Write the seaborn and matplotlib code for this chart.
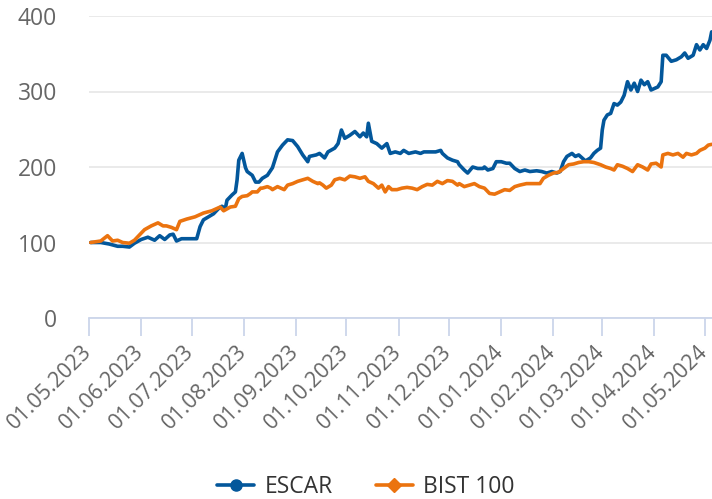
import pandas as pd
import matplotlib.pyplot as plt
import matplotlib.transforms as mtransforms
from matplotlib.lines import Line2D
import seaborn as sns

# ESCAR vs BIST 100, rebased to 100 at 01.05.2023
escar_dates = [
    "02.05.2023", "08.05.2023", "13.05.2023", "18.05.2023", "21.05.2023", "25.05.2023", "28.05.2023",
    "01.06.2023", "05.06.2023", "09.06.2023", "12.06.2023", "15.06.2023", "18.06.2023", "20.06.2023",
    "22.06.2023", "25.06.2023", "30.06.2023", "04.07.2023", "06.07.2023", "08.07.2023", "11.07.2023",
    "14.07.2023", "17.07.2023", "19.07.2023", "21.07.2023", "22.07.2023", "25.07.2023", "27.07.2023",
    "28.07.2023", "29.07.2023", "31.07.2023", "02.08.2023", "03.08.2023", "06.08.2023", "08.08.2023",
    "10.08.2023", "12.08.2023", "15.08.2023", "18.08.2023", "21.08.2023", "24.08.2023", "27.08.2023",
    "30.08.2023", "02.09.2023", "05.09.2023", "08.09.2023", "09.09.2023", "13.09.2023", "15.09.2023",
    "18.09.2023", "20.09.2023", "24.09.2023", "26.09.2023", "28.09.2023", "30.09.2023", "03.10.2023",
    "06.10.2023", "09.10.2023", "11.10.2023", "13.10.2023", "14.10.2023", "16.10.2023", "19.10.2023",
    "22.10.2023", "25.10.2023", "27.10.2023", "30.10.2023", "02.11.2023", "04.11.2023", "07.11.2023",
    "11.11.2023", "14.11.2023", "16.11.2023", "18.11.2023", "23.11.2023", "26.11.2023", "27.11.2023",
    "30.11.2023", "03.12.2023", "06.12.2023", "07.12.2023", "10.12.2023", "12.12.2023", "15.12.2023",
    "18.12.2023", "21.12.2023", "22.12.2023", "24.12.2023", "27.12.2023", "29.12.2023", "01.01.2024",
    "04.01.2024", "06.01.2024", "09.01.2024", "12.01.2024", "15.01.2024", "18.01.2024", "22.01.2024",
    "25.01.2024", "28.01.2024", "31.01.2024", "03.02.2024", "05.02.2024", "07.02.2024", "09.02.2024",
    "12.02.2024", "14.02.2024", "16.02.2024", "18.02.2024", "20.02.2024", "23.02.2024", "25.02.2024",
    "27.02.2024", "29.02.2024", "01.03.2024", "02.03.2024", "04.03.2024", "06.03.2024", "08.03.2024",
    "10.03.2024", "12.03.2024", "14.03.2024", "16.03.2024", "18.03.2024", "20.03.2024", "22.03.2024",
    "24.03.2024", "26.03.2024", "28.03.2024", "30.03.2024", "01.04.2024", "03.04.2024", "05.04.2024",
    "06.04.2024", "08.04.2024", "11.04.2024", "14.04.2024", "17.04.2024", "19.04.2024", "21.04.2024",
    "24.04.2024", "26.04.2024", "28.04.2024", "30.04.2024", "02.05.2024", "04.05.2024", "05.05.2024",
]
escar_values = [
    100, 100, 98, 95, 95, 94, 99,
    104, 107, 103, 109, 104, 110, 111,
    102, 105, 105, 105, 121, 130, 134,
    138, 145, 148, 145, 156, 163, 167,
    183, 209, 218, 199, 194, 189, 180,
    180, 185, 189, 199, 220, 229, 236,
    235, 227, 216, 207, 214, 216, 218,
    212, 220, 225, 231, 249, 238, 242,
    247, 240, 245, 240, 258, 234, 231,
    225, 231, 218, 220, 218, 222, 218,
    220, 218, 220, 220, 220, 222, 218,
    212, 209, 207, 203, 196, 192, 200,
    198, 198, 200, 196, 198, 207, 207,
    205, 205, 198, 194, 196, 194, 195,
    194, 192, 194, 192, 194, 207, 214,
    218, 214, 216, 212, 208, 212, 218,
    222, 225, 249, 262, 269, 271, 284,
    282, 286, 295, 313, 302, 311, 300,
    315, 309, 313, 302, 304, 306, 313,
    348, 348, 340, 342, 346, 351, 344,
    348, 362, 355, 362, 357, 368, 379,
]

bist_dates = [
    "02.05.2023", "08.05.2023", "12.05.2023", "15.05.2023", "18.05.2023", "21.05.2023", "25.05.2023",
    "28.05.2023", "31.05.2023", "03.06.2023", "07.06.2023", "11.06.2023", "14.06.2023", "16.06.2023",
    "19.06.2023", "22.06.2023", "24.06.2023", "28.06.2023", "03.07.2023", "08.07.2023", "13.07.2023",
    "18.07.2023", "20.07.2023", "24.07.2023", "27.07.2023", "29.07.2023", "31.07.2023", "03.08.2023",
    "05.08.2023", "06.08.2023", "09.08.2023", "11.08.2023", "12.08.2023", "15.08.2023", "17.08.2023",
    "18.08.2023", "21.08.2023", "24.08.2023", "25.08.2023", "27.08.2023", "30.08.2023", "02.09.2023",
    "05.09.2023", "08.09.2023", "11.09.2023", "14.09.2023", "15.09.2023", "17.09.2023", "19.09.2023",
    "22.09.2023", "24.09.2023", "27.09.2023", "30.09.2023", "03.10.2023", "06.10.2023", "09.10.2023",
    "12.10.2023", "14.10.2023", "17.10.2023", "20.10.2023", "22.10.2023", "24.10.2023", "26.10.2023",
    "28.10.2023", "31.10.2023", "03.11.2023", "06.11.2023", "09.11.2023", "12.11.2023", "15.11.2023",
    "18.11.2023", "21.11.2023", "24.11.2023", "27.11.2023", "30.11.2023", "03.12.2023", "06.12.2023",
    "07.12.2023", "10.12.2023", "13.12.2023", "16.12.2023", "19.12.2023", "22.12.2023", "25.12.2023",
    "28.12.2023", "31.12.2023", "03.01.2024", "06.01.2024", "09.01.2024", "12.01.2024", "16.01.2024",
    "20.01.2024", "24.01.2024", "26.01.2024", "29.01.2024", "01.02.2024", "04.02.2024", "07.02.2024",
    "10.02.2024", "13.02.2024", "16.02.2024", "19.02.2024", "22.02.2024", "25.02.2024", "29.02.2024",
    "03.03.2024", "06.03.2024", "08.03.2024", "10.03.2024", "13.03.2024", "16.03.2024", "19.03.2024",
    "22.03.2024", "25.03.2024", "28.03.2024", "30.03.2024", "02.04.2024", "05.04.2024", "06.04.2024",
    "09.04.2024", "12.04.2024", "15.04.2024", "18.04.2024", "20.04.2024", "23.04.2024", "26.04.2024",
    "28.04.2024", "01.05.2024", "03.05.2024", "05.05.2024",
]
bist_values = [
    100, 102, 109, 102, 103, 100, 99,
    103, 110, 117, 122, 126, 122, 122,
    120, 117, 128, 131, 134, 139, 142,
    147, 142, 147, 148, 158, 161, 162,
    165, 167, 167, 172, 172, 174, 172,
    170, 174, 171, 170, 176, 178, 181,
    183, 185, 181, 178, 179, 176, 172,
    176, 183, 185, 183, 188, 187, 185,
    187, 181, 178, 172, 176, 167, 174,
    170, 170, 172, 173, 172, 170, 174,
    177, 176, 181, 178, 182, 181, 176,
    178, 174, 176, 178, 174, 172, 165,
    164, 167, 170, 169, 174, 176, 178,
    178, 178, 185, 189, 192, 193, 198,
    203, 204, 206, 207, 207, 206, 203,
    200, 198, 196, 203, 201, 198, 194,
    203, 200, 196, 204, 205, 200, 216,
    218, 216, 218, 213, 218, 216, 218,
    222, 225, 229, 230,
]

tick_dates = [
    "01.05.2023", "01.06.2023", "01.07.2023", "01.08.2023", "01.09.2023", "01.10.2023", "01.11.2023",
    "01.12.2023", "01.01.2024", "01.02.2024", "01.03.2024", "01.04.2024", "01.05.2024",
]
y_ticks = [0, 100, 200, 300, 400]

series_colors = {"ESCAR": "#03579b", "BIST 100": "#eb730f"}

sns.set_style("white")
plt.rcParams['font.family'] = ['Open Sans', 'DejaVu Sans']

df = pd.concat([
    pd.DataFrame({"date": escar_dates, "value": escar_values, "series": "ESCAR"}),
    pd.DataFrame({"date": bist_dates, "value": bist_values, "series": "BIST 100"}),
])
df["date"] = pd.to_datetime(df["date"], format="%d.%m.%Y")

fig = plt.figure(figsize=(7.12, 4.99), dpi=100)
ax = fig.add_axes([89 / 712, 181 / 499, 623 / 712, 302 / 499])

sns.lineplot(data=df, x="date", y="value", hue="series", palette=series_colors,
             estimator=None, linewidth=2.6, legend=False, ax=ax)

ax.set_xlim(pd.Timestamp("2023-05-01"), pd.Timestamp("2024-05-05 05:00"))
ax.set_ylim(0, 400)
ax.set_xlabel("")
ax.set_ylabel("")

# grid + spines
ax.set_yticks(y_ticks)
ax.yaxis.grid(True, color="#e6e6e6", linewidth=1.2)
ax.xaxis.grid(False)
ax.set_axisbelow(True)
for side in ["top", "right", "left"]:
    ax.spines[side].set_visible(False)
ax.spines["bottom"].set_color("#ccd6eb")
ax.spines["bottom"].set_linewidth(1.3)

ax.tick_params(axis="y", left=False, length=0, pad=23, labelsize=16.5, labelcolor="#666666")
ax.set_yticklabels([str(v) for v in y_ticks])

tick_pos = pd.to_datetime(tick_dates, format="%d.%m.%Y")
ax.set_xticks(tick_pos)
ax.set_xticklabels(tick_dates)
ax.tick_params(axis="x", bottom=True, direction="out", length=12.7, width=1.3, color="#ccd6eb",
               pad=4, labelsize=15.5, labelcolor="#666666")
shift = mtransforms.ScaledTranslation(-0.08, 0, fig.dpi_scale_trans)
for lbl in ax.get_xticklabels():
    lbl.set_rotation(45)
    lbl.set_rotation_mode("anchor")
    lbl.set_ha("right")
    lbl.set_va("top")
    lbl.set_transform(lbl.get_transform() + shift)

handles = [
    Line2D([], [], color=series_colors["ESCAR"], lw=2.6, marker="o", markersize=8),
    Line2D([], [], color=series_colors["BIST 100"], lw=2.6, marker="D", markersize=7),
]
leg = fig.legend(handles, ["ESCAR", "BIST 100"], loc="center", bbox_to_anchor=(0.514, 0.025),
                 ncol=2, frameon=False, fontsize=16.5, handlelength=1.6, handletextpad=0.45,
                 columnspacing=1.9)
for t in leg.get_texts():
    t.set_color("#333333")

fig.savefig("out.png", dpi=100)
